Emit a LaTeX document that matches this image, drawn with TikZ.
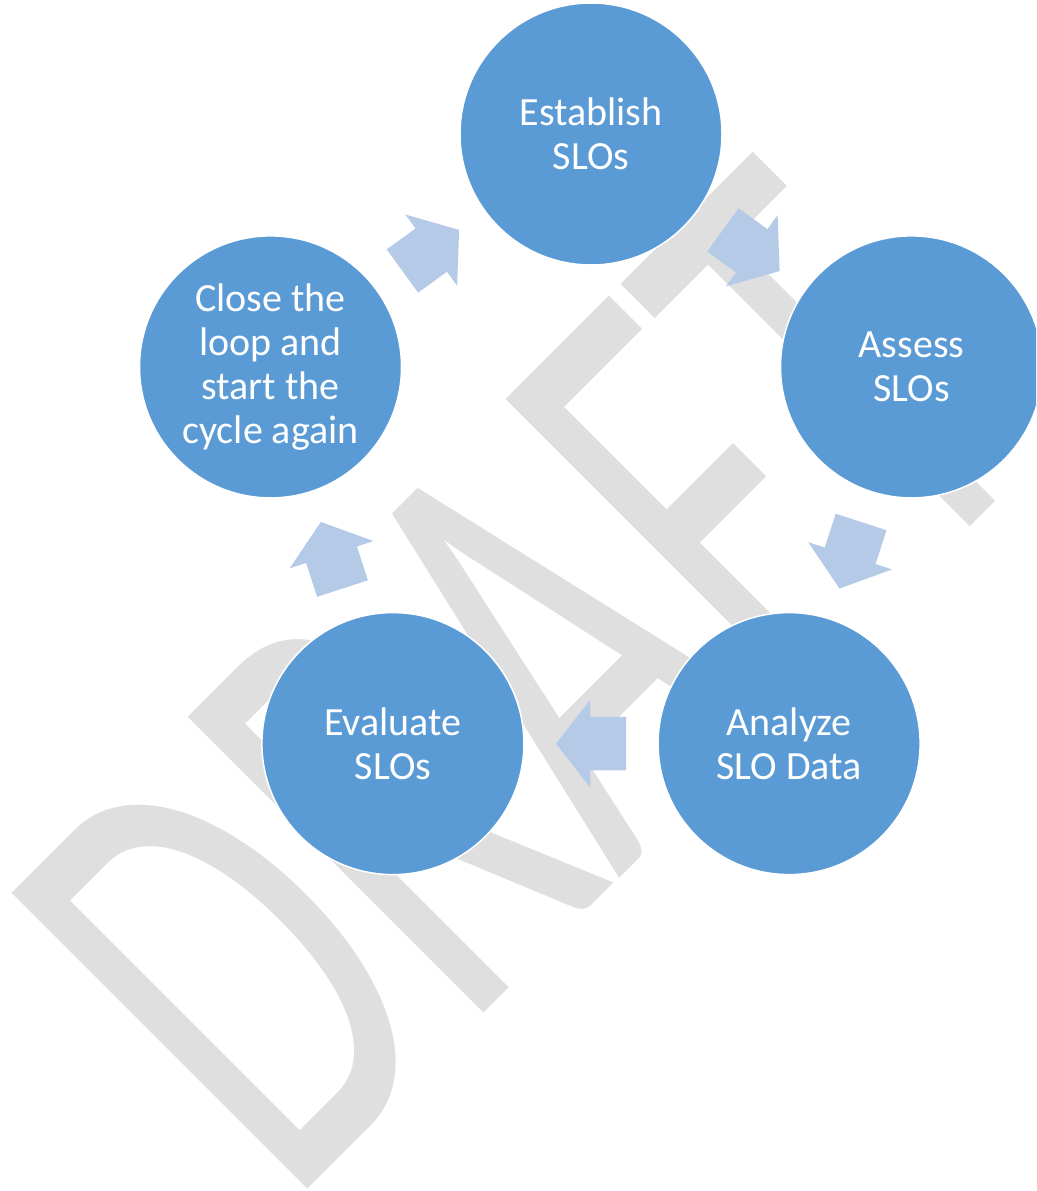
\documentclass[tikz,border=0pt]{standalone}
\usepackage{fontspec}
\setmainfont{Carlito}
\newfontfamily\wmfamily{Carlito}
\usetikzlibrary{calc}
\definecolor{cblue}{RGB}{91,155,213}
\definecolor{afill}{RGB}{181,202,231}
\definecolor{wmgray}{RGB}{223,223,223}
\tikzset{
  stage/.style={circle, fill=cblue, draw=white, line width=1.5pt, minimum size=262pt,
    inner sep=0pt, text=white, align=center, font=\fontsize{40}{44}\selectfont},
  watermark/.style={font=\wmfamily\fontsize{652}{652}\selectfont, text=wmgray, inner sep=0pt,
    anchor=base west, rotate=45, xscale=0.618, transform shape},
  blockarrow/.pic={\fill[afill] (35,0) -- (0.6,44) -- (0.6,26.7) -- (-35,26.7)
    -- (-35,-26.7) -- (0.6,-26.7) -- (0.6,-44) -- cycle;},
}
\begin{document}
\begin{tikzpicture}[x=1pt,y=-1pt]
\useasboundingbox (0,0) rectangle (1036,1191);
\fill[white] (0,0) rectangle (1036,1191);
\begin{scope}
\clip (0,0) rectangle (1036,1191);
\node[watermark] (wm) at (288,1209) {DRAFT};
\node[stage] (est) at (591,134) {Establish\\SLOs};
\node[stage] (ass) at (911.5,366.9) {Assess\\SLOs};
\node[stage] (ana) at (789.1,743.6) {Analyze\\SLO Data};
\node[stage] (eva) at (392.9,743.6) {Evaluate\\SLOs};
\node[stage] (clo) at (270.5,366.9) {Close the\\loop and\\start the\\cycle again};
\pic[rotate=-36] at ($(est)!0.5!(ass)$) {blockarrow};
\pic[rotate=-108] at ($(ass)!0.5!(ana)$) {blockarrow};
\pic[rotate=180] at ($(ana)!0.5!(eva)$) {blockarrow};
\pic[rotate=108] at ($(eva)!0.5!(clo)$) {blockarrow};
\pic[rotate=36] at ($(clo)!0.5!(est)$) {blockarrow};
\end{scope}
\end{tikzpicture}
\end{document}
